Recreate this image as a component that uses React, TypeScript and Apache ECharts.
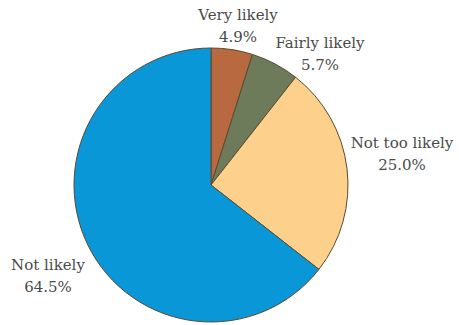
import React, { useEffect, useRef } from "react";
import * as echarts from "echarts";

const categories = ["Very likely", "Fairly likely", "Not too likely", "Not likely"];
const values = [4.9, 5.7, 25.0, 64.5];
const colors = ["#B8693F", "#6E7B5B", "#FDD08C", "#0A97D8"];
const labelPos: [number, number][] = [
  [238, 26],
  [320, 54],
  [402, 154],
  [48, 276],
];

export default function App() {
  const ref = useRef<HTMLDivElement>(null);
  useEffect(() => {
    const chart = echarts.init(ref.current!, undefined, { renderer: "svg" });
    chart.setOption({
      animation: false,
      backgroundColor: "#ffffff",
      series: [
        {
          type: "pie",
          center: [211, 185],
          radius: 137,
          startAngle: 90,
          clockwise: true,
          data: categories.map((name, i) => ({
            name,
            value: values[i],
            itemStyle: { color: colors[i] },
          })),
          itemStyle: { borderColor: "#5a4a30", borderWidth: 1 },
          label: {
            show: true,
            position: "inside",
            formatter: (p: any) => `${p.name}\n${p.value.toFixed(1)}%`,
            fontFamily: "DejaVu Serif",
            fontSize: 15,
            lineHeight: 22,
            color: "#4a4a4a",
            align: "center",
            overflow: "none",
          },
          labelLine: { show: false },
          labelLayout: (params: any) => ({
            x: labelPos[params.dataIndex][0],
            y: labelPos[params.dataIndex][1],
            align: "center",
            verticalAlign: "middle",
          }),
          emphasis: { disabled: true },
        },
      ],
    });
    return () => chart.dispose();
  }, []);
  return <div ref={ref} style={{ width: 459, height: 325, position: "absolute", left: 0, top: 0 }} />;
}
